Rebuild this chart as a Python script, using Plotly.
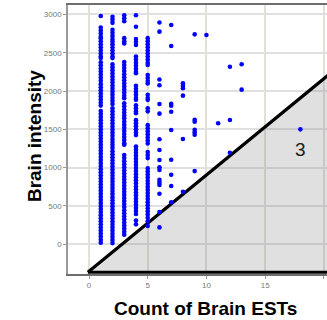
import plotly.graph_objects as go

# ---- data ----
col_x = [1, 2, 3, 4, 5, 6, 7, 8, 9, 10, 11, 12, 13, 18]
col_y = {
    1: [2980, 2830, 2790, 2750, 2710, 2690, 2650, 2610, 2570, 2530, 2490, 2450, 2430,
        2375, 2335, 2295, 2255, 2215, 2175, 2135, 2090, 2050, 2010, 1970, 1930, 1890,
        1850, 1810, 1740, 1700, 1660, 1620, 1580, 1540, 1500, 1460, 1420, 1380, 1340,
        1300, 1260, 1220, 1180, 1140, 1100, 1060, 1020, 980, 940, 900, 860, 820, 780,
        740, 700, 660, 620, 580, 540, 500, 460, 420, 380, 340, 300, 260, 220, 180, 140,
        100, 60, 20],
    2: [2970, 2930, 2890, 2800, 2760, 2720, 2680, 2645, 2610, 2570, 2530, 2490, 2450,
        2430, 2350, 2310, 2270, 2230, 2190, 2150, 2110, 2070, 2030, 1990, 1950, 1910,
        1870, 1830, 1775, 1735, 1695, 1655, 1615, 1575, 1535, 1495, 1455, 1415, 1375,
        1335, 1295, 1255, 1215, 1175, 1135, 1095, 1055, 1015, 975, 935, 895, 855, 815,
        775, 735, 695, 655, 615, 575, 535, 495, 455, 415, 375, 335, 295, 255, 215, 175,
        135, 95, 55, 15],
    3: [2990, 2950, 2910, 2690, 2650, 2620, 2380, 2340, 2300, 2260, 2220, 2180, 2140,
        2100, 2060, 2020, 1980, 1940, 1905, 1840, 1800, 1760, 1720, 1680, 1645, 1600,
        1560, 1520, 1480, 1440, 1400, 1360, 1320, 1300, 1165, 1125, 1085, 1045, 1005,
        965, 925, 885, 845, 805, 765, 725, 685, 645, 605, 565, 525, 485, 445, 405, 365,
        325, 285, 245, 205, 165, 125],
    4: [2990, 2840, 2680, 2640, 2600, 2450, 2410, 2370, 2330, 2290, 2250, 2232, 2070,
        2030, 1990, 1950, 1910, 1885, 1815, 1775, 1735, 1710, 1620, 1580, 1540, 1500,
        1460, 1425, 1275, 1235, 1195, 1155, 1115, 1075, 1035, 995, 955, 915, 875, 835,
        795, 755, 715, 675, 635, 595, 555, 515, 475, 435, 395, 310, 260],
    5: [2690, 2650, 2610, 2570, 2530, 2490, 2450, 2410, 2370, 2340, 2210, 2170, 2130,
        2100, 1950, 1910, 1885, 1775, 1735, 1555, 1515, 1475, 1435, 1395, 1355, 1315,
        1205, 1165, 1125, 990, 950, 910, 870, 830, 790, 750, 710, 670, 630, 590, 550,
        510, 470, 430, 390, 345, 300, 240],
    6: [2895, 2775, 2150, 2075, 1830, 1705, 1370, 1231, 1100, 1005, 970, 840, 805,
        775, 660, 420, 220],
    7: [2862, 2588, 1835, 1809, 1730, 1492, 1104, 908, 761, 548],
    8: [2101, 2070, 2036, 1940, 1374, 686],
    9: [2740, 1625, 1600, 1495, 1462, 1430, 955],
    10: [2731],
    11: [1579],
    12: [2318, 1622, 1195],
    13: [2349, 2018],
    18: [1500],
}

# shaded triangular region (region "3")
tri_x = [-0.1, 22.0, 22.0, -0.1]
tri_y = [-365, 2413, -365, -365]
region_label = "3"
region_label_pos = (17.97, 1234)

x_ticks = [0, 5, 10, 15, 20]
y_ticks = [0, 500, 1000, 1500, 2000, 2500, 3000]
x_title = "Count of Brain ESTs"
y_title = "Brain intensity"

xs, ys = [], []
for cx in col_x:
    for v in col_y[cx]:
        xs.append(cx)
        ys.append(v)

fig = go.Figure()
fig.add_trace(go.Scatter(
    x=tri_x, y=tri_y, mode="lines", fill="toself",
    fillcolor="rgba(255,255,255,0)",
    fillpattern=dict(shape=".", fgcolor="#6e6e6e", bgcolor="rgba(255,255,255,0)",
                     size=2, solidity=0.5),
    line=dict(color="black", width=3.2),
    hoverinfo="skip", showlegend=False,
))
fig.add_trace(go.Scatter(
    x=xs, y=ys, mode="markers",
    marker=dict(color="#0000ff", size=4.6, line=dict(width=0)),
    showlegend=False,
))

fig.add_annotation(x=region_label_pos[0], y=region_label_pos[1], xref="x", yref="y",
                   text=region_label, showarrow=False,
                   font=dict(family="Arial, Liberation Sans", size=19, color="#1a1a1a"))
fig.add_annotation(x=0.532, y=-0.128, xref="paper", yref="paper", text=x_title,
                   showarrow=False, xanchor="center", yanchor="middle",
                   font=dict(family="Arial, Liberation Sans", size=19, color="black", weight="bold"))
fig.add_annotation(x=-0.131, y=0.513, xref="paper", yref="paper", text=y_title,
                   showarrow=False, textangle=-90, xanchor="center", yanchor="middle",
                   font=dict(family="Arial, Liberation Sans", size=19, color="black", weight="bold"))

fig.update_layout(
    width=327, height=320,
    margin=dict(l=68, r=0, t=5, b=46),
    paper_bgcolor="white", plot_bgcolor="white",
    font=dict(family="Arial, Liberation Sans"),
    xaxis=dict(range=[-1.79, 20.27], tickvals=x_ticks, showgrid=True,
               gridcolor="#e3e0d6", gridwidth=1.5, zeroline=False,
               showline=True, linecolor="#6e6e6e", linewidth=1.5, mirror=True,
               ticks="outside", ticklen=3, tickcolor="#999",
               tickfont=dict(size=8, color="#777")),
    yaxis=dict(range=[-388, 3123], tickvals=y_ticks, showgrid=True,
               gridcolor="#e0e0e0", gridwidth=1.5, zeroline=False,
               showline=True, linecolor="#999", linewidth=1.5,
               ticks="outside", ticklen=3, tickcolor="#999",
               tickfont=dict(size=8, color="#777")),
)

fig.write_html("out.html",
               config={"displayModeBar": False},
               post_script="document.body.style.margin='0';document.body.style.overflow='hidden';")
